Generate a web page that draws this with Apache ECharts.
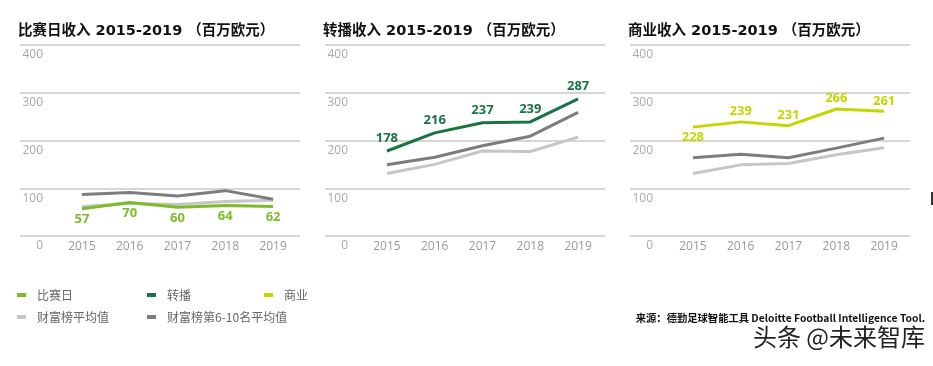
<!DOCTYPE html>
<html>
<head>
<meta charset="utf-8">
<script src="https://cdn.jsdelivr.net/npm/echarts@6/dist/echarts.min.js"></script>
<style>
html,body{margin:0;padding:0;background:#fff;}
#chart{width:933px;height:366px;}
</style>
</head>
<body>
<div id="chart"></div>
<script>
// ---- data ----
const years = ['2015', '2016', '2017', '2018', '2019'];
const matchday = [57, 70, 60, 64, 62];
const matchdayTopAvg = [62, 68, 66, 72, 75];
const matchdayRank610 = [87, 91, 84, 95, 77];
const broadcast = [178, 216, 237, 239, 287];
const broadcastTopAvg = [131, 150, 178, 177, 207];
const broadcastRank610 = [149, 165, 189, 209, 259];
const commercial = [228, 239, 231, 266, 261];
const commercialTopAvg = [131, 149, 152, 170, 185];
const commercialRank610 = [164, 171, 164, 184, 205];
const titles = ['比赛日收入 2015-2019 （百万欧元）', '转播收入 2015-2019 （百万欧元）', '商业收入 2015-2019 （百万欧元）'];
const legendNames = ['比赛日', '转播', '商业', '财富榜平均值', '财富榜第6-10名平均值'];
const sourceText = '来源：德勤足球智能工具 Deloitte Football Intelligence Tool.';
const watermark = '头条 @未来智库';

// ---- styling ----
const C_MATCH = '#7cbb2c', C_BROAD = '#1a7340', C_COMM = '#c4d600';
const C_LIGHT = '#c6c6c6', C_DARK = '#7d7d80';
const FONT = '"Open Sans", "Noto Sans CJK SC", sans-serif';
const CJK = '"Noto Sans CJK SC", sans-serif';
const TITLEFONT = '"DejaVu Sans", "Noto Sans CJK SC", sans-serif';

const panels = [
  {bgLeft: 20, dataLeft: 58, main: matchday, top: matchdayTopAvg, r610: matchdayRank610, color: C_MATCH, name: legendNames[0], pos: ['bottom','bottom','bottom','bottom','bottom'], dist: 4},
  {bgLeft: 325, dataLeft: 363, main: broadcast, top: broadcastTopAvg, r610: broadcastRank610, color: C_BROAD, name: legendNames[1], pos: ['top','top','top','top','top'], dist: 6},
  {bgLeft: 630, dataLeft: 669, main: commercial, top: commercialTopAvg, r610: commercialRank610, color: C_COMM, name: legendNames[2], pos: ['bottom','top','top','top','top'], dist: 4}
];

const grid = [], xAxis = [], yAxis = [], series = [], title = [];
panels.forEach((p, i) => {
  // background grid: gridlines + y labels
  grid.push({left: p.bgLeft, width: 280, top: 45, height: 191});
  xAxis.push({type: 'value', gridIndex: 2 * i, show: false, min: 0, max: 1});
  yAxis.push({
    type: 'value', gridIndex: 2 * i, min: 0, max: 400, interval: 100,
    axisLine: {show: false}, axisTick: {show: false},
    splitLine: {lineStyle: {color: '#c8c8c8', width: 1.5}},
    axisLabel: {margin: -23, align: 'right', verticalAlign: 'top', padding: [4, 0, 0, 0],
      color: '#a8a8a8', fontSize: 12, fontFamily: FONT}
  });
  // data grid
  grid.push({left: p.dataLeft, width: 239, top: 45, height: 191});
  xAxis.push({
    type: 'category', gridIndex: 2 * i + 1, data: years, boundaryGap: true,
    axisLine: {show: false}, axisTick: {show: false},
    axisLabel: {margin: 5, color: '#999', fontSize: 12, fontFamily: FONT}
  });
  yAxis.push({type: 'value', gridIndex: 2 * i + 1, min: 0, max: 400, interval: 100, show: false, splitLine: {show: false}});
  const common = {type: 'line', xAxisIndex: 2 * i + 1, yAxisIndex: 2 * i + 1, smooth: false};
  series.push(Object.assign({}, common, {name: legendNames[3], data: p.top, showSymbol: false, symbol: 'none', lineStyle: {color: C_LIGHT, width: 3}, itemStyle: {color: C_LIGHT}, z: 2}));
  series.push(Object.assign({}, common, {name: legendNames[4], data: p.r610, showSymbol: false, symbol: 'none', lineStyle: {color: C_DARK, width: 3}, itemStyle: {color: C_DARK}, z: 3}));
  series.push(Object.assign({}, common, {
    name: p.name, z: 4,
    showSymbol: true, symbol: 'circle', symbolSize: 0,
    data: p.main.map((v, k) => ({value: v, label: {position: p.pos[k]}})),
    lineStyle: {color: p.color, width: 3}, itemStyle: {color: p.color},
    label: {show: true, distance: p.dist, color: p.color, fontWeight: 'bold', fontSize: 13, fontFamily: FONT}
  }));
  title.push({text: titles[i], left: p.bgLeft - 2, top: 24, padding: 0,
    textStyle: {fontSize: 14.5, fontWeight: 'bold', color: '#111', fontFamily: TITLEFONT}});
});

const legendPos = [[17, 289], [147, 289], [264, 289], [17, 311], [147, 311]];
const legendColors = [C_MATCH, C_BROAD, C_COMM, C_LIGHT, C_DARK];
const legend = legendNames.map((n, k) => ({
  data: [{name: n, icon: 'rect', itemStyle: {color: legendColors[k]}}],
  left: legendPos[k][0], top: legendPos[k][1], itemWidth: 9, itemHeight: 4, itemGap: 10,
  padding: 0, selectedMode: false,
  textStyle: {color: '#666', fontSize: 12, fontFamily: CJK, padding: [0, 0, 0, 6]}
}));

const chart = echarts.init(document.getElementById('chart'), null, {renderer: 'canvas'});
chart.setOption({
  animation: false,
  backgroundColor: '#fff',
  title, grid, xAxis, yAxis, series, legend,
  graphic: [
    {type: 'text', right: 8, top: 313, style: {text: sourceText, fill: '#111', font: 'bold 10.3px ' + CJK}},
    {type: 'text', right: 8, top: 325, style: {text: watermark, fill: '#222', font: '24px ' + CJK}},
    {type: 'rect', left: 931, top: 192, shape: {width: 2, height: 13}, style: {fill: '#333'}}
  ]
});
</script>
</body>
</html>
